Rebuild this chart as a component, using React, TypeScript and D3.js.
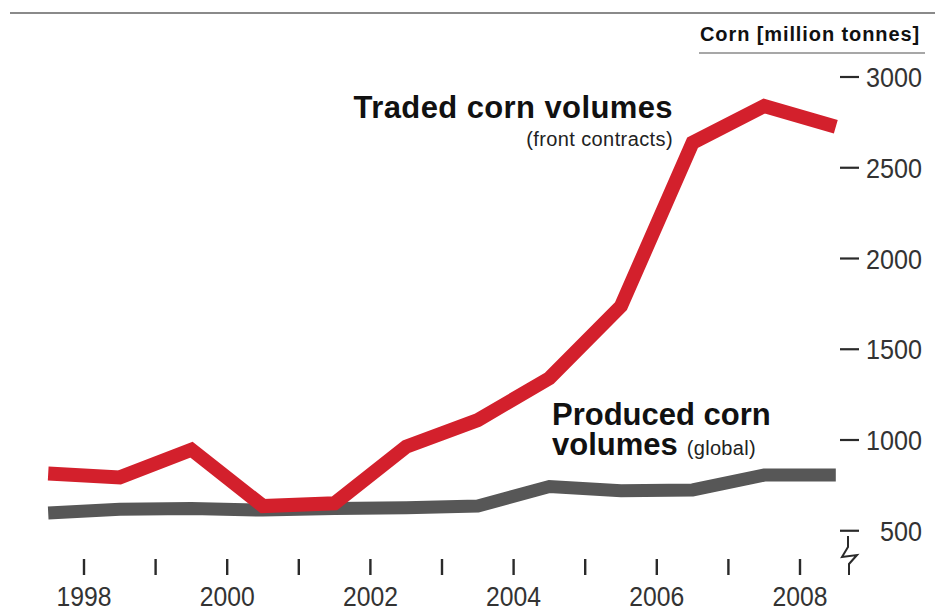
import React from "react";
import * as d3 from "d3";

// Annual observations, plotted at mid-year
const periods = [1997.5, 1998.5, 1999.5, 2000.5, 2001.5, 2002.5, 2003.5, 2004.5, 2005.5, 2006.5, 2007.5, 2008.5];
const tradedVolumes = [816, 794, 947, 636, 651, 963, 1110, 1340, 1738, 2638, 2840, 2726];
const producedVolumes = [598, 618, 622, 614, 622, 627, 636, 744, 721, 725, 807, 807];

const yearTicks = [1998, 1999, 2000, 2001, 2002, 2003, 2004, 2005, 2006, 2007, 2008];
const yearLabels = [1998, 2000, 2002, 2004, 2006, 2008];
const valueTicks = [500, 1000, 1500, 2000, 2500, 3000];

const W = 947;
const H = 611;

export default function App() {
  const x = d3.scaleLinear().domain([1998, 2008]).range([84, 800]);
  const y = d3.scaleLinear().domain([500, 3000]).range([530.75, 77]);

  const line = d3
    .line<number>()
    .x((_, i) => x(periods[i]))
    .y((v) => y(v));

  const font = "'Liberation Sans', Arial, sans-serif";

  return (
    <svg
      width={W}
      height={H}
      viewBox={`0 0 ${W} ${H}`}
      style={{ position: "absolute", left: 0, top: 0, background: "#fff" }}
    >
      {/* top rule */}
      <line x1={10} x2={935} y1={13} y2={13} stroke="#8a8a8a" strokeWidth={2} />

      {/* unit heading */}
      <text
        x={700}
        y={41}
        fontFamily={font}
        fontWeight="bold"
        fontSize={20}
        letterSpacing={0.9}
        fill="#111"
      >
        Corn [million tonnes]
      </text>
      <line x1={699} x2={925} y1={53} y2={53} stroke="#8a8a8a" strokeWidth={1.5} />

      {/* value axis */}
      {valueTicks.map((v) => (
        <g key={v}>
          <line x1={840} x2={859} y1={y(v)} y2={y(v)} stroke="#2a2a2a" strokeWidth={2.2} />
          <text
            x={922}
            y={y(v) + 10}
            textAnchor="end"
            fontFamily={font}
            fontSize={27}
            fill="#333"
            textLength={String(v).length * 14}
            lengthAdjust="spacingAndGlyphs"
          >
            {v}
          </text>
        </g>
      ))}
      {/* axis break mark */}
      <path
        d="M848,536 L848,547 L842,557 L857,555 L849,564 L849,575"
        fill="none"
        stroke="#2a2a2a"
        strokeWidth={2}
        strokeLinejoin="miter"
      />

      {/* year axis */}
      {yearTicks.map((yr) => (
        <line key={yr} x1={x(yr)} x2={x(yr)} y1={559} y2={575} stroke="#2a2a2a" strokeWidth={2.4} />
      ))}
      {yearLabels.map((yr) => (
        <text
          key={yr}
          x={x(yr)}
          y={606}
          textAnchor="middle"
          fontFamily={font}
          fontSize={28}
          fill="#333"
          textLength={55}
          lengthAdjust="spacingAndGlyphs"
        >
          {yr}
        </text>
      ))}

      {/* series */}
      <path
        d={line(producedVolumes) ?? ""}
        fill="none"
        stroke="#575757"
        strokeWidth={13}
        strokeLinejoin="miter"
        strokeLinecap="butt"
      />
      <path
        d={line(tradedVolumes) ?? ""}
        fill="none"
        stroke="#d3202c"
        strokeWidth={14}
        strokeLinejoin="miter"
        strokeLinecap="butt"
      />

      {/* series labels */}
      <text
        x={673}
        y={118}
        textAnchor="end"
        fontFamily={font}
        fontWeight="bold"
        fontSize={31}
        letterSpacing={0.4}
        fill="#111"
      >
        Traded corn volumes
      </text>
      <text
        x={673}
        y={146}
        textAnchor="end"
        fontFamily={font}
        fontSize={20}
        letterSpacing={0.4}
        fill="#222"
      >
        (front contracts)
      </text>
      <text x={552} y={425} fontFamily={font} fontWeight="bold" fontSize={31} fill="#111">
        <tspan x={552}>Produced corn</tspan>
        <tspan x={552} dy={30}>volumes</tspan>
        <tspan dx={9} fontWeight="normal" fontSize={20} letterSpacing={0.3} fill="#222">
          (global)
        </tspan>
      </text>
    </svg>
  );
}
